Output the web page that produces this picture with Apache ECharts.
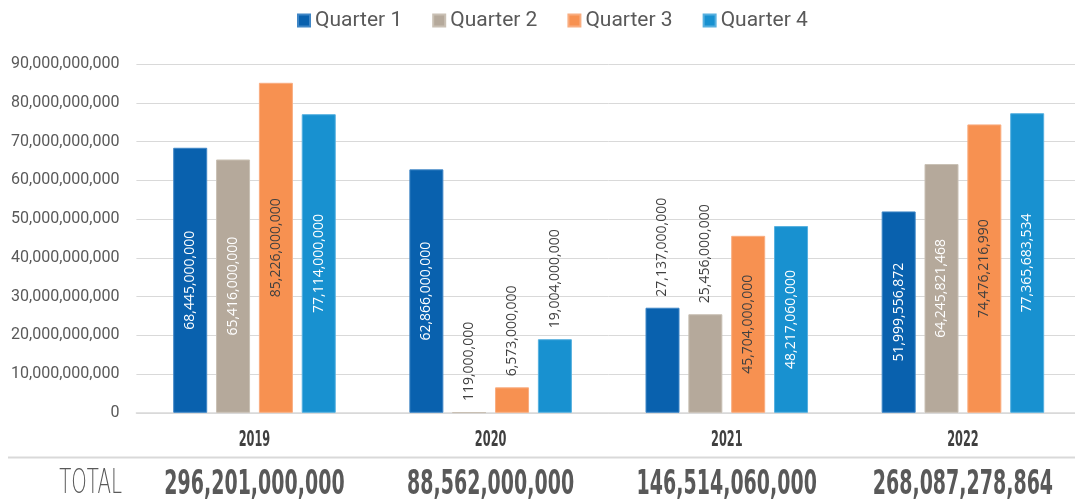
<!DOCTYPE html>
<html>
<head>
<meta charset="utf-8">
<script src="https://cdn.jsdelivr.net/npm/echarts@6/dist/echarts.min.js"></script>
<style>
  html, body { margin: 0; padding: 0; background: #ffffff; overflow: hidden; }
  #chart { width: 1090px; height: 503px; }
</style>
</head>
<body>
<div id="chart"></div>
<script>
// Quarterly amounts per year
const categories = ['2019', '2020', '2021', '2022'];
const quarter1 = [68445000000, 62866000000, 27137000000, 51999556872];
const quarter2 = [65416000000, 119000000, 25456000000, 64245821468];
const quarter3 = [85226000000, 6573000000, 45704000000, 74476216990];
const quarter4 = [77114000000, 19004000000, 48217060000, 77365683534];
const seriesNames = ['Quarter 1', 'Quarter 2', 'Quarter 3', 'Quarter 4'];
const totalLabel = 'TOTAL';

const fmt = v => Math.round(v).toLocaleString('en-US');

const colors = ['#0961AE', '#B5A99B', '#F79151', '#1891D0'];
const borders = ['#3f86c6', '#c9c0b4', '#f9ad80', '#56b0df'];
const insideText = ['#ffffff', '#ffffff', '#404040', '#ffffff'];
const outsideBelow = 30000000000; // short bars carry their label above the bar

const allSeries = [quarter1, quarter2, quarter3, quarter4];

const chart = echarts.init(document.getElementById('chart'), null, { renderer: 'canvas' });

const series = allSeries.map((vals, si) => ({
  name: seriesNames[si],
  type: 'bar',
  barWidth: 34,
  barGap: '26%',
  itemStyle: { color: colors[si], borderColor: borders[si], borderWidth: 1 },
  data: vals.map(v => {
    const outside = v < outsideBelow;
    return {
      value: v,
      label: outside
        ? { position: 'top', distance: 11, align: 'left', verticalAlign: 'middle', color: '#404040' }
        : { position: 'inside', align: 'center', verticalAlign: 'middle', color: insideText[si] }
    };
  }),
  label: {
    show: true,
    rotate: 90,
    fontFamily: '"Open Sans", sans-serif',
    fontSize: 14,
    formatter: p => fmt(p.value)
  }
}));

chart.setOption({
  animation: false,
  backgroundColor: '#ffffff',
  color: colors,
  legend: {
    top: 5,
    left: 292,
    icon: 'rect',
    itemWidth: 12,
    itemHeight: 12,
    itemGap: 30,
    textStyle: { fontFamily: 'Roboto, sans-serif', fontSize: 21, color: '#595959' },
    data: seriesNames
  },
  grid: { left: 136.4, right: 9, top: 64.3, bottom: 90.2, containLabel: false },
  xAxis: {
    type: 'category',
    data: categories,
    axisLine: { lineStyle: { color: '#d9d9d9', width: 1.5 } },
    axisTick: { show: false },
    axisLabel: { show: false }
  },
  yAxis: {
    type: 'value',
    min: 0,
    max: 90000000000,
    interval: 10000000000,
    axisLine: { show: false },
    axisTick: { show: false },
    splitLine: { lineStyle: { color: '#d9d9d9', width: 1 } },
    axisLabel: {
      margin: 17,
      fontFamily: 'Roboto, sans-serif',
      fontSize: 16,
      color: '#595959',
      formatter: v => fmt(v)
    }
  },
  series: series
});

// Year captions, divider and per-year totals beneath the axis
function drawFooter() {
  const graphics = [];
  graphics.push({
    type: 'line',
    silent: true,
    shape: { x1: 8, y1: 457.5, x2: 1090, y2: 457.5 },
    style: { stroke: '#d9d9d9', lineWidth: 2 }
  });
  graphics.push({
    type: 'text',
    silent: true,
    x: 122, y: 484.5,
    scaleX: 0.6,
    style: {
      text: totalLabel,
      font: '200 33px "DejaVu Sans", sans-serif',
      fill: '#595959',
      align: 'right', verticalAlign: 'middle',
      textAlign: 'right', textVerticalAlign: 'middle'
    }
  });
  categories.forEach((cat, i) => {
    const cx = chart.convertToPixel({ xAxisIndex: 0 }, cat);
    const total = allSeries.reduce((s, arr) => s + arr[i], 0);
    graphics.push({
      type: 'text',
      silent: true,
      x: cx, y: 440.5,
      scaleX: 0.6,
      style: {
        text: cat,
        font: 'bold 21px "DejaVu Sans Condensed", "DejaVu Sans", sans-serif',
        fill: '#404040',
        align: 'center', verticalAlign: 'middle',
        textAlign: 'center', textVerticalAlign: 'middle'
      }
    });
    graphics.push({
      type: 'text',
      silent: true,
      x: cx, y: 485,
      scaleX: 0.64,
      style: {
        text: fmt(total),
        font: 'bold 33px "DejaVu Sans Condensed", "DejaVu Sans", sans-serif',
        fill: '#595959',
        align: 'center', verticalAlign: 'middle',
        textAlign: 'center', textVerticalAlign: 'middle'
      }
    });
  });
  chart.setOption({ graphic: graphics });
}
drawFooter();
</script>
</body>
</html>
